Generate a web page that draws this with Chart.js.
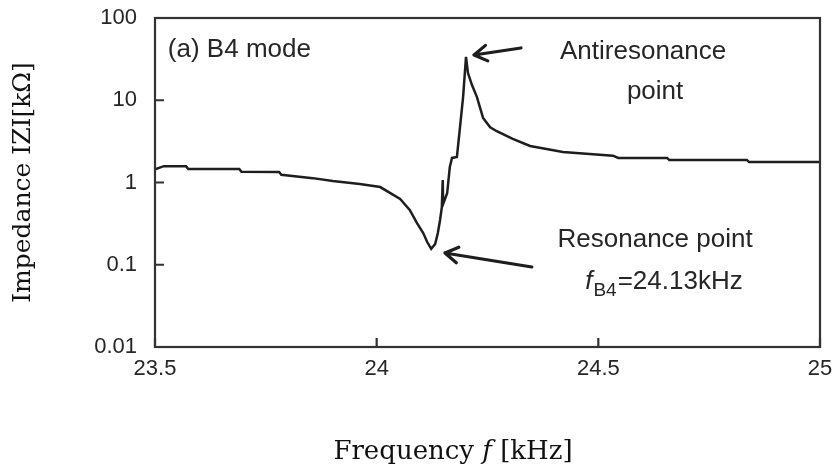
<!DOCTYPE html>
<html>
<head>
<meta charset="utf-8">
<script src="https://cdn.jsdelivr.net/npm/chart.js@4/dist/chart.umd.min.js"></script>
<style>
    body { margin: 0; background: #fff; }
    #wrap { width: 835px; height: 469px; }
</style>
</head>
<body>
<div id="wrap"><canvas id="chart" width="835" height="469"></canvas></div>
<script>
// 頻率 (kHz)
var freq = [23.5, 23.52, 23.57, 23.575, 23.69, 23.695, 23.78, 23.785, 23.856, 23.901,
    23.962, 24.008, 24.053, 24.075, 24.091, 24.105, 24.114, 24.123, 24.132, 24.138,
    24.143, 24.147, 24.149, 24.150, 24.159, 24.165, 24.170, 24.181, 24.188, 24.195,
    24.2015, 24.206, 24.215, 24.226, 24.240, 24.256, 24.271, 24.307, 24.346, 24.420,
    24.533, 24.545, 24.655, 24.66, 24.835, 24.84, 25];
// 阻抗 |Z| (kΩ)
var impedance = [1.45, 1.58, 1.58, 1.46, 1.46, 1.35, 1.34, 1.24, 1.13, 1.04,
    0.96, 0.88, 0.63, 0.46, 0.32, 0.243, 0.189, 0.156, 0.179, 0.243,
    0.35, 0.50, 1.07, 0.55, 0.74, 1.54, 1.99, 2.05, 4.7, 11,
    33.6, 21.4, 15.3, 11, 6.1, 4.7, 4.2, 3.4, 2.78, 2.35,
    2.12, 1.99, 1.99, 1.88, 1.88, 1.77, 1.77];

var xTicks = [23.5, 24, 24.5, 25];
var yTicks = [0.01, 0.1, 1, 10, 100];

// 標註 (用資料座標)
var notes = {
    title: { x: 23.529, y: 40.8, text: '(a) B4 mode' },
    anti1: { x: 24.601, y: 38.6, text: 'Antiresonance' },
    anti2: { x: 24.628, y: 12.6, text: 'point' },
    reso1: { x: 24.628, y: 0.2, text: 'Resonance point' },
    reso2: { x: 24.648, y: 0.0617 }
};
var arrows = [
    { from: [24.3255, 43.2], to: [24.2195, 35.5] },
    { from: [24.350, 0.094], to: [24.154, 0.139] }
];

var ink = '#1e1e1e';
var textInk = '#262626';
var sans = '"Liberation Sans", Arial, Helvetica, sans-serif';
var serif = '"DejaVu Serif", "Liberation Serif", serif';
var noteSize = 26;

function drawArrow(ctx, x1, y1, x2, y2) {
    var ang = Math.atan2(y2 - y1, x2 - x1);
    var len = 15;
    ctx.beginPath();
    ctx.moveTo(x1, y1);
    ctx.lineTo(x2, y2);
    ctx.moveTo(x2 - len * Math.cos(ang - 0.55), y2 - len * Math.sin(ang - 0.55));
    ctx.lineTo(x2, y2);
    ctx.lineTo(x2 - len * Math.cos(ang + 0.55), y2 - len * Math.sin(ang + 0.55));
    ctx.stroke();
}

var framePlugin = {
    id: 'frame',
    afterDraw(chart) {
        var ctx = chart.ctx;
        var a = chart.chartArea;
        var xs = chart.scales.x, ys = chart.scales.y;
        ctx.save();
        // 外框
        ctx.strokeStyle = '#333';
        ctx.lineWidth = 2.2;
        ctx.strokeRect(a.left, a.top, a.right - a.left, a.bottom - a.top);
        // 向內刻度
        ctx.beginPath();
        yTicks.forEach(function (v) {
            var py = ys.getPixelForValue(v);
            ctx.moveTo(a.left, py);
            ctx.lineTo(a.left + 9, py);
        });
        xTicks.forEach(function (v) {
            var px = xs.getPixelForValue(v);
            ctx.moveTo(px, a.bottom);
            ctx.lineTo(px, a.bottom - 9);
        });
        ctx.stroke();

        // 箭頭
        ctx.strokeStyle = ink;
        ctx.lineWidth = 3.2;
        ctx.lineCap = 'round';
        ctx.lineJoin = 'round';
        arrows.forEach(function (ar) {
            drawArrow(ctx,
                xs.getPixelForValue(ar.from[0]), ys.getPixelForValue(ar.from[1]),
                xs.getPixelForValue(ar.to[0]), ys.getPixelForValue(ar.to[1]));
        });

        // 文字
        ctx.fillStyle = textInk;
        ctx.textBaseline = 'middle';
        ctx.font = noteSize + 'px ' + sans;
        ctx.textAlign = 'left';
        ctx.fillText(notes.title.text, xs.getPixelForValue(notes.title.x), ys.getPixelForValue(notes.title.y));
        ctx.textAlign = 'center';
        ['anti1', 'anti2', 'reso1'].forEach(function (k) {
            var n = notes[k];
            ctx.fillText(n.text, xs.getPixelForValue(n.x), ys.getPixelForValue(n.y));
        });
        // f_B4=24.13kHz
        var cx = xs.getPixelForValue(notes.reso2.x);
        var cy = ys.getPixelForValue(notes.reso2.y);
        ctx.font = 'italic ' + noteSize + 'px ' + sans;
        var wf = ctx.measureText('f').width;
        ctx.font = '19px ' + sans;
        var ws = ctx.measureText('B4').width;
        ctx.font = noteSize + 'px ' + sans;
        var wr = ctx.measureText('=24.13kHz').width;
        var x0 = cx - (wf + ws + 2 + wr) / 2;
        ctx.textAlign = 'left';
        ctx.font = 'italic ' + noteSize + 'px ' + sans;
        ctx.fillText('f', x0, cy);
        ctx.font = '19px ' + sans;
        ctx.fillText('B4', x0 + wf + 1, cy + 9);
        ctx.font = noteSize + 'px ' + sans;
        ctx.fillText('=24.13kHz', x0 + wf + ws + 2, cy);

        // x 軸標題
        ctx.fillStyle = '#111';
        ctx.font = '26px ' + serif;
        var t1 = 'Frequency ', t2 = 'f', t3 = ' [kHz]';
        var w1 = ctx.measureText(t1).width, w3 = ctx.measureText(t3).width;
        ctx.font = 'italic 26px ' + serif;
        var w2 = ctx.measureText(t2).width;
        var tx = 453 - (w1 + w2 + w3) / 2;
        ctx.font = '26px ' + serif;
        ctx.fillText(t1, tx, 452);
        ctx.font = 'italic 26px ' + serif;
        ctx.fillText(t2, tx + w1, 452);
        ctx.font = '26px ' + serif;
        ctx.fillText(t3, tx + w1 + w2, 452);
        ctx.restore();
    }
};

new Chart(document.getElementById('chart'), {
    type: 'line',
    data: {
        datasets: [{
            data: freq.map(function (f, i) { return { x: f, y: impedance[i] }; }),
            borderColor: ink,
            borderWidth: 2.5,
            pointRadius: 0,
            tension: 0,
            fill: false
        }]
    },
    options: {
        responsive: false,
        animation: false,
        layout: { padding: { top: 18, right: 15, left: 0, bottom: 0 } },
        plugins: {
            legend: { display: false },
            tooltip: { enabled: false }
        },
        scales: {
            x: {
                type: 'linear',
                min: 23.5,
                max: 25,
                afterBuildTicks: function (scale) {
                    scale.ticks = xTicks.map(function (v) { return { value: v }; });
                },
                afterFit: function (scale) {
                    scale.height = 122;
                    scale.paddingLeft = 0;
                    scale.paddingRight = 0;
                },
                grid: { display: false, drawTicks: false },
                border: { display: false },
                ticks: {
                    padding: 9,
                    color: textInk,
                    font: { family: sans, size: 22 },
                    maxRotation: 0,
                    callback: function (v) { return String(v); }
                }
            },
            y: {
                type: 'logarithmic',
                min: 0.01,
                max: 100,
                afterBuildTicks: function (scale) {
                    scale.ticks = yTicks.map(function (v) { return { value: v }; });
                },
                afterFit: function (scale) {
                    scale.width = 155;
                    scale.paddingTop = 0;
                    scale.paddingBottom = 0;
                },
                grid: { display: false, drawTicks: false },
                border: { display: false },
                ticks: {
                    padding: 18,
                    color: textInk,
                    font: { family: sans, size: 22 },
                    callback: function (v) { return String(v); }
                },
                title: {
                    display: true,
                    text: 'Impedance IZI[kΩ]',
                    color: '#111',
                    font: { family: serif, size: 25 },
                    padding: { top: 8, bottom: 0 }
                }
            }
        }
    },
    plugins: [framePlugin]
});
</script>
</body>
</html>
